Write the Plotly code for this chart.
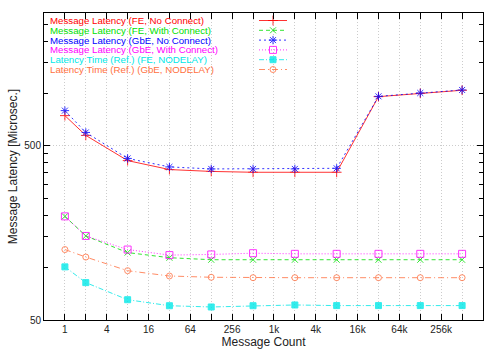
import plotly.graph_objects as go

# message counts (x) and latencies in microseconds (y)
msg_count = [1, 2, 8, 32, 128, 512, 2048, 8192, 32768, 131072, 524288]

fe_no_connect = [747, 575, 412, 366, 357, 353, 353, 353, 960, 1003, 1045]
fe_with_connect = [197, 152, 122, 114, 111, 111, 111, 111, 111, 111, 111]
gbe_no_connect = [798, 598, 424, 379, 369, 369, 369, 372, 964, 1008, 1049]
gbe_with_connect = [197, 152, 127, 118, 119, 121, 120, 120, 120, 120, 120]
ref_fe_nodelay = [101, 82, 65.4, 60.4, 59.4, 60.4, 61, 60.5, 60.5, 60.5, 60.5]
ref_gbe_nodelay = [127, 115, 96, 89.5, 88, 87.5, 87.5, 87.5, 87.5, 87.5, 87.5]

series_names = [
    "Message Latency (FE, No Connect)",
    "Message Latency (FE, With Connect)",
    "Message Latency (GbE, No Connect)",
    "Message Latency (GbE, With Connect)",
    "Latency Time (Ref.) (FE, NODELAY)",
    "Latency Time (Ref.) (GbE, NODELAY)",
]

x_tickvals = [1, 4, 16, 64, 256, 1024, 4096, 16384, 65536, 262144]
x_ticktext = ["1", "4", "16", "64", "256", "1k", "4k", "16k", "64k", "256k"]
x_minor = [0.5, 2, 8, 32, 128, 512, 2048, 8192, 32768, 131072, 524288, 1048576]
y_tickvals = [50, 500]
y_minor = [100, 150, 200, 250, 300, 350, 400, 450, 1000, 1500, 2000, 2500]

styles = [
    dict(color="#ff0000", dash="solid", symbol="cross-thin-open", size=7),
    dict(color="#00e000", dash="4px,3px", symbol="x-thin-open", size=6),
    dict(color="#0000ff", dash="2px,3px", symbol="asterisk-open", size=7),
    dict(color="#ff00ff", dash="1px,2px", symbol="square-open", size=7),
    dict(color="#00e8e8", dash="5px,2px,1px,2px", symbol="square", size=6),
    dict(color="#ff7040", dash="6px,3px,1px,3px", symbol="circle-open", size=6),
]
all_y = [fe_no_connect, fe_with_connect, gbe_no_connect,
         gbe_with_connect, ref_fe_nodelay, ref_gbe_nodelay]

fig = go.Figure()
for name, ys, st in zip(series_names, all_y, styles):
    fig.add_trace(go.Scatter(
        x=msg_count, y=ys, name=name, mode="lines+markers",
        line=dict(color=st["color"], width=1, dash=st["dash"]),
        marker=dict(symbol=st["symbol"], size=st["size"], color=st["color"],
                    line=dict(color=st["color"], width=1)),
        opacity=0.8, showlegend=False,
    ))

# gnuplot-style key: coloured text on the left, sample on the right
# (drawn on an invisible overlay axis measured in pixels)
for i, (name, st) in enumerate(zip(series_names, styles)):
    row_y = 20.5 + i * 9.8
    fig.add_trace(go.Scatter(
        x=[259, 287], y=[row_y, row_y], xaxis="x2", yaxis="y2", mode="lines",
        line=dict(color=st["color"], width=1, dash=st["dash"]),
        opacity=0.8, showlegend=False, hoverinfo="skip",
    ))
    fig.add_trace(go.Scatter(
        x=[273], y=[row_y], xaxis="x2", yaxis="y2", mode="markers",
        marker=dict(symbol=st["symbol"], size=st["size"], color=st["color"],
                    line=dict(color=st["color"], width=1)),
        opacity=0.8, showlegend=False, hoverinfo="skip",
    ))
    fig.add_annotation(
        x=49, y=row_y, xref="x2", yref="y2", text=name, showarrow=False,
        xanchor="left", yanchor="middle",
        font=dict(color=st["color"], size=9.7), borderpad=0,
    )

grid = dict(showgrid=True, gridcolor="#cccccc", griddash="1px,2px", gridwidth=1)

fig.update_layout(
    width=500, height=350,
    margin=dict(l=44, r=17, t=13, b=30),
    paper_bgcolor="white", plot_bgcolor="white",
    font=dict(family="Liberation Sans, Arial, sans-serif", size=10, color="#222"),
    xaxis=dict(
        type="log", range=[-0.30103, 6.0206], automargin=False,
        tickvals=x_tickvals, ticktext=x_ticktext,
        ticks="inside", ticklen=6, tickcolor="black",
        showline=True, linecolor="black", linewidth=1, mirror="ticks",
        title=dict(text="Message Count", standoff=3),
        minor=dict(tickmode="array", tickvals=x_minor, ticks="inside",
                   ticklen=6, tickcolor="black", **grid),
        zeroline=False, **grid,
    ),
    yaxis=dict(
        type="log", range=[1.69897, 3.463], automargin=False,
        tickvals=y_tickvals, ticktext=["50", "500"],
        ticks="inside", ticklen=6, tickcolor="black",
        showline=True, linecolor="black", linewidth=1, mirror="ticks",
        title=dict(text="Message Latency [Microsec.]", standoff=4),
        minor=dict(tickmode="array", tickvals=y_minor, ticks="inside",
                   ticklen=4, tickcolor="black", showgrid=False),
        zeroline=False, **grid,
    ),
    xaxis2=dict(range=[44, 483], overlaying="x", visible=False, fixedrange=True),
    yaxis2=dict(range=[320, 13], overlaying="y", visible=False, fixedrange=True),
)

fig.write_html("out.html", config={"displayModeBar": False},
               post_script="document.body.style.margin='0';")
